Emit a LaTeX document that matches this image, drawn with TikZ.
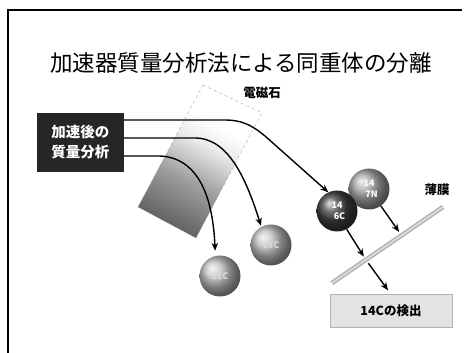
\documentclass[tikz,border=0pt]{standalone}
\usepackage{fontspec}
\setmainfont{Noto Sans CJK JP}
\usetikzlibrary{arrows.meta}

\pgfdeclareverticalshading{magnetshade}{100bp}{color(0bp)=(black!62); color(25bp)=(black!62); color(42bp)=(black!38); color(56bp)=(black!8); color(64bp)=(white); color(100bp)=(white)}

\tikzset{
  beam/.style={line width=1.4pt, -{Stealth[length=8pt,width=6.5pt]}},
  isotope/.style={circle, minimum size=41pt, inner sep=0pt, ball color=#1,
    text=white, align=center, font=\bfseries\fontsize{9}{10}\selectfont},
  labeltext/.style={font=\bfseries\fontsize{12.5}{14}\selectfont}
}

\begin{document}
\begin{tikzpicture}[x=1pt,y=-1pt]
\useasboundingbox (0,0) rectangle (467,353);
\draw[line width=1.6pt] (8,353) -- (8,10) -- (462,10);
\node (title) at (241,63) {\fontsize{22.5}{26}\selectfont 加速器質量分析法による同重体の分離};

% magnet
\coordinate (magT) at (203,85);
\coordinate (magR) at (262,113);
\coordinate (magBR) at (196,238);
\coordinate (magBL) at (138,207);
\path[shading=magnetshade, shading angle=-28] (magT) -- (magR) -- (magBR) -- (magBL) -- cycle;
\draw[dashed, gray!70, thin] (magT) -- (magR) -- (magBR) -- (magBL) -- cycle;
\node[labeltext] (magnetlabel) at (262,93) {電磁石};

\node[fill=black!85, text=white, align=center, inner sep=0pt,
  minimum width=87pt, minimum height=59pt,
  font=\bfseries\fontsize{14.5}{20}\selectfont] (massbox) at (80.5,142.5) {加速後の\\質量分析};

% isotopes
\node[isotope=gray!50] (cxii) at (220,276) {\textcolor{white!70!gray}{12C}};
\node[isotope=gray!50] (cxiii) at (271,245) {\textcolor{white!70!gray}{13C}};
\node[isotope=gray!70] (nxiv) at (369,189) {14\\[1pt]\hspace{5pt}7N};
\node[isotope=black!75] (cxiv) at (337,211) {14\\[1pt]\hspace{5pt}6C};

% beams through the magnet
\draw[beam] (massbox.east |- 0,120) -- (225,120) .. controls (245,120) and (255,128) .. (265,136) -- (cxiv.115);
\draw[beam, shorten >=1pt] (massbox.east |- 0,138) -- (195,138) .. controls (228,138) and (246,178) .. (cxiii.118);
\draw[beam, shorten >=5pt] (massbox.east |- 0,156) -- (160,156) .. controls (200,158) and (213,200) .. (cxii.103);

% film
\coordinate (filmA) at (332,283);
\coordinate (filmB) at (443,207);
\draw[line width=4.5pt, gray!65] (filmA) -- (filmB);
\draw[line width=2pt, gray!30] (filmA) -- (filmB);
\node[labeltext] (filmlabel) at (437,190) {薄膜};

\node[fill=gray!22, draw=gray!60, minimum width=122pt, minimum height=33pt,
  labeltext] (detector) at (391,311) {14Cの検出};

\coordinate (hitC) at (366,260);
\coordinate (hitN) at (402,236);
\draw[beam, shorten >=4pt] (cxiv.-62) -- (hitC);
\draw[beam, shorten <=4pt, shorten >=5pt] (hitC) -- (detector.north);
\draw[beam, shorten >=5pt] (nxiv.-55) -- (hitN);
\end{tikzpicture}
\end{document}
